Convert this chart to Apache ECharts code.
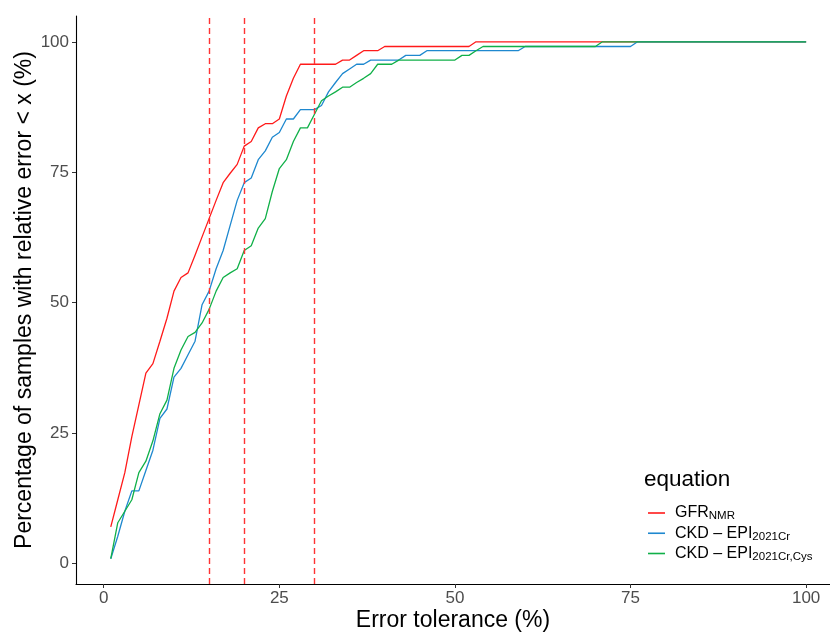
<!DOCTYPE html>
<html>
<head>
<meta charset="utf-8">
<script src="https://cdn.jsdelivr.net/npm/echarts@6/dist/echarts.min.js"></script>
<style>
  html, body { margin: 0; padding: 0; background: #fff; }
  #chart { width: 830px; height: 633px; }
</style>
</head>
<body>
<div id="chart"></div>
<script>
// 误差容限 (%)
var tolerance = [
  1, 2, 3, 4, 5, 6, 7, 8, 9, 10,
  11, 12, 13, 14, 15, 16, 17, 18, 19, 20,
  21, 22, 23, 24, 25, 26, 27, 28, 29, 30,
  31, 32, 33, 34, 35, 36, 37, 38, 39, 40,
  41, 42, 43, 44, 45, 46, 47, 48, 49, 50,
  51, 52, 53, 54, 55, 56, 57, 58, 59, 60,
  61, 62, 63, 64, 65, 66, 67, 68, 69, 70,
  71, 72, 73, 74, 75, 76, 77, 78, 79, 80,
  81, 82, 83, 84, 85, 86, 87, 88, 89, 90,
  91, 92, 93, 94, 95, 96, 97, 98, 99, 100
];

var gfrNmr = [
  7.0, 12.2, 17.4, 24.3, 30.4, 36.5, 38.3, 42.6, 47.0, 52.2,
  54.8, 55.7, 59.1, 62.6, 66.1, 69.6, 73.0, 74.8, 76.5, 80.0,
  80.9, 83.5, 84.3, 84.3, 85.2, 89.6, 93.0, 95.7, 95.7, 95.7,
  95.7, 95.7, 95.7, 96.5, 96.5, 97.4, 98.3, 98.3, 98.3, 99.1,
  99.1, 99.1, 99.1, 99.1, 99.1, 99.1, 99.1, 99.1, 99.1, 99.1,
  99.1, 99.1, 100, 100, 100, 100, 100, 100, 100, 100,
  100, 100, 100, 100, 100, 100, 100, 100, 100, 100,
  100, 100, 100, 100, 100, 100, 100, 100, 100, 100,
  100, 100, 100, 100, 100, 100, 100, 100, 100, 100,
  100, 100, 100, 100, 100, 100, 100, 100, 100, 100
];

var ckdCr = [
  0.9, 5.2, 10.0, 13.9, 13.9, 17.8, 21.7, 27.8, 29.6, 35.7,
  37.4, 40.0, 42.6, 49.6, 52.2, 56.5, 60.0, 64.8, 69.6, 73.0,
  73.9, 77.4, 79.1, 81.7, 82.6, 85.2, 85.2, 87.0, 87.0, 87.0,
  87.8, 90.4, 92.2, 93.9, 94.8, 95.7, 95.7, 96.5, 96.5, 96.5,
  96.5, 96.5, 97.4, 97.4, 97.4, 98.3, 98.3, 98.3, 98.3, 98.3,
  98.3, 98.3, 98.3, 98.3, 98.3, 98.3, 98.3, 98.3, 98.3, 99.1,
  99.1, 99.1, 99.1, 99.1, 99.1, 99.1, 99.1, 99.1, 99.1, 99.1,
  99.1, 99.1, 99.1, 99.1, 99.1, 100, 100, 100, 100, 100,
  100, 100, 100, 100, 100, 100, 100, 100, 100, 100,
  100, 100, 100, 100, 100, 100, 100, 100, 100, 100
];

var ckdCrCys = [
  0.9, 7.8, 10.0, 12.2, 17.4, 19.6, 23.5, 28.7, 31.3, 37.4,
  40.9, 43.5, 44.3, 46.1, 48.7, 52.2, 54.8, 55.7, 56.5, 60.0,
  60.9, 64.3, 66.1, 71.3, 75.7, 77.4, 80.9, 83.5, 83.5, 86.1,
  88.7, 89.6, 90.4, 91.3, 91.3, 92.2, 93.0, 93.9, 95.7, 95.7,
  95.7, 96.5, 96.5, 96.5, 96.5, 96.5, 96.5, 96.5, 96.5, 96.5,
  97.4, 97.4, 98.3, 99.1, 99.1, 99.1, 99.1, 99.1, 99.1, 99.1,
  99.1, 99.1, 99.1, 99.1, 99.1, 99.1, 99.1, 99.1, 99.1, 99.1,
  100, 100, 100, 100, 100, 100, 100, 100, 100, 100,
  100, 100, 100, 100, 100, 100, 100, 100, 100, 100,
  100, 100, 100, 100, 100, 100, 100, 100, 100, 100
];

// 参考线位置
var cutoffs = [15, 20, 30];
var yTicks = [0, 25, 50, 75, 100];
var xTicks = [0, 25, 50, 75, 100];

var seriesNames = ['GFR_NMR', 'CKD_EPI_2021Cr', 'CKD_EPI_2021Cr_Cys'];
var legendText = {
  'GFR_NMR': '{m|GFR}{s|NMR}',
  'CKD_EPI_2021Cr': '{m|CKD – EPI}{s|2021Cr}',
  'CKD_EPI_2021Cr_Cys': '{m|CKD – EPI}{s|2021Cr,Cys}'
};
var colors = ['#FF1A1A', '#1E88CF', '#10B048'];

function pairs(vals) {
  var out = [];
  for (var i = 0; i < tolerance.length; i++) out.push([tolerance[i], vals[i]]);
  return out;
}

var FONT = '"Liberation Sans", Arial, sans-serif';
var myChart = echarts.init(document.getElementById('chart'));

var option = {
  backgroundColor: '#fff',
  animation: false,
  textStyle: { fontFamily: FONT },
  grid: { left: 76, right: 0, top: 16, bottom: 49, containLabel: false, outerBoundsMode: 'none' },
  title: {
    text: 'equation',
    left: 639, top: 463,
    textStyle: { fontFamily: FONT, fontSize: 22.5, fontWeight: 'normal', color: '#000' }
  },
  legend: {
    data: seriesNames,
    orient: 'vertical',
    left: 643, top: 500,
    icon: 'rect',
    itemWidth: 17, itemHeight: 1.6,
    itemGap: 3,
    formatter: function(name) { return legendText[name]; },
    textStyle: {
      fontFamily: FONT,
      rich: {
        m: { fontFamily: FONT, fontSize: 16, color: '#000', lineHeight: 18.5, padding: [0, 0, 0, 5] },
        s: { fontFamily: FONT, fontSize: 11.5, color: '#000', lineHeight: 10, verticalAlign: 'bottom' }
      }
    }
  },
  xAxis: {
    type: 'value',
    min: -3.95, max: 103.4,
    interval: 25,
    name: 'Error tolerance (%)',
    nameLocation: 'middle',
    nameGap: 25,
    nameMoveOverlap: false,
    nameTextStyle: { fontFamily: FONT, fontSize: 23, color: '#000' },
    axisLine: { show: true, onZero: false, lineStyle: { color: '#000', width: 1.1 } },
    axisTick: { show: true, length: 4, lineStyle: { color: '#333' }, customValues: xTicks },
    axisLabel: { fontSize: 17, color: '#4D4D4D', margin: 6, fontFamily: FONT, customValues: xTicks },
    splitLine: { show: false }
  },
  yAxis: {
    type: 'value',
    min: -3.95, max: 104.95,
    name: 'Percentage of samples with relative error < x (%)',
    nameLocation: 'middle',
    nameGap: 40,
    nameMoveOverlap: false,
    nameTextStyle: { fontFamily: FONT, fontSize: 23, color: '#000' },
    axisLine: { show: true, onZero: false, lineStyle: { color: '#000', width: 1.1 } },
    axisTick: { show: true, length: 4, lineStyle: { color: '#333' }, customValues: yTicks },
    axisLabel: { fontSize: 17, color: '#4D4D4D', margin: 7, fontFamily: FONT, customValues: yTicks },
    splitLine: { show: false }
  },
  series: [
    {
      name: seriesNames[0], type: 'line', data: pairs(gfrNmr),
      showSymbol: false, symbol: 'none',
      lineStyle: { color: colors[0], width: 1.3 }, itemStyle: { color: colors[0] }
    },
    {
      name: seriesNames[1], type: 'line', data: pairs(ckdCr),
      showSymbol: false, symbol: 'none',
      lineStyle: { color: colors[1], width: 1.3 }, itemStyle: { color: colors[1] }
    },
    {
      name: seriesNames[2], type: 'line', data: pairs(ckdCrCys),
      showSymbol: false, symbol: 'none',
      lineStyle: { color: colors[2], width: 1.3 }, itemStyle: { color: colors[2] }
    },
    {
      name: 'cutoff', type: 'line', data: [],
      markLine: {
        silent: true, symbol: 'none', label: { show: false },
        lineStyle: { color: '#FF3333', type: [6, 4], width: 1.4 },
        data: cutoffs.map(function(c) { return { xAxis: c }; })
      }
    }
  ]
};
myChart.setOption(option);
</script>
</body>
</html>
